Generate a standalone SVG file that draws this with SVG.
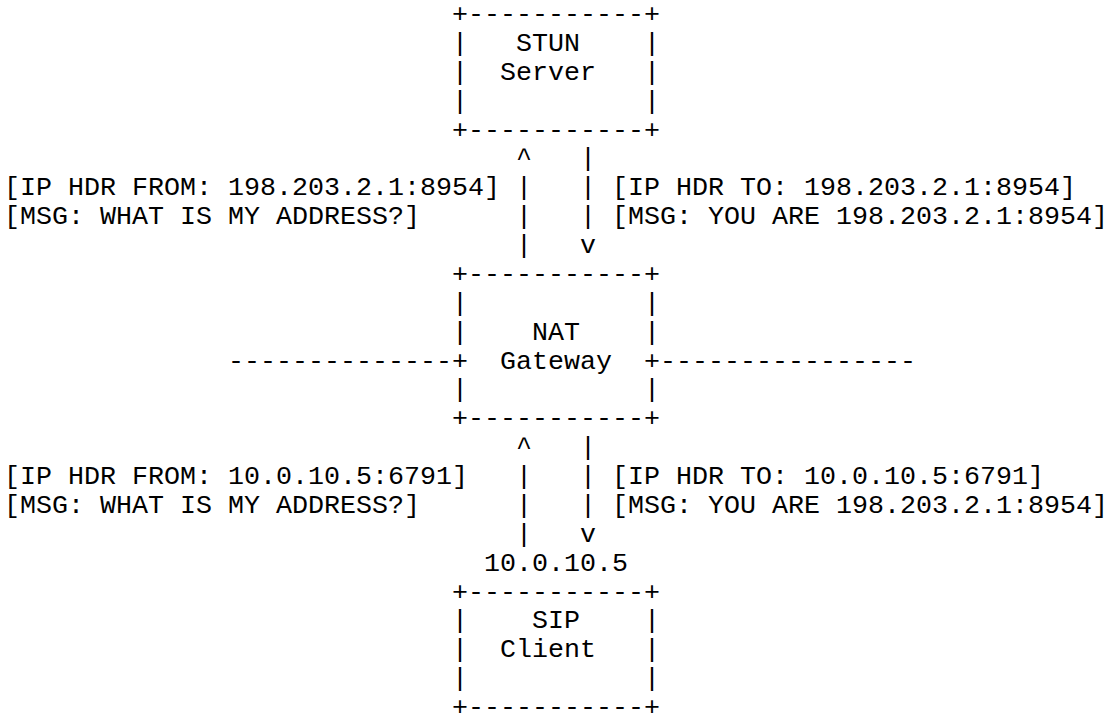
<svg xmlns="http://www.w3.org/2000/svg" width="1109" height="722" viewBox="0 0 1109 722" xml:space="preserve">
<style>
text{font-family:"Liberation Mono","Courier New",monospace;font-size:26.667px;fill:#000;white-space:pre}
</style>
<rect width="1109" height="722" fill="#fff"/>
<g id="stun-server">
<text x="452" y="22">+-----------+</text>
<text x="452" y="50.9">|   STUN    |</text>
<text x="452" y="79.75">|  Server   |</text>
<text x="452" y="108.6">|           |</text>
<text x="452" y="137.5">+-----------+</text>
</g>
<g id="nat-gateway">
<text x="452" y="281.9">+-----------+</text>
<text x="452" y="310.75">|           |</text>
<text x="452" y="339.6">|    NAT    |</text>
<text x="452" y="368.5">+  Gateway  +</text>
<text x="452" y="397.4">|           |</text>
<text x="452" y="426.25">+-----------+</text>
</g>
<g id="sip-client">
<text x="484" y="570.6">10.0.10.5</text>
<text x="452" y="599.5">+-----------+</text>
<text x="452" y="628.4">|    SIP    |</text>
<text x="452" y="657.25">|  Client   |</text>
<text x="452" y="686.1">|           |</text>
<text x="452" y="715">+-----------+</text>
</g>
<g id="connectors">
<text x="516" y="166.4">^</text><text x="580" y="166.4">|</text>
<text x="516" y="195.25">|</text><text x="580" y="195.25">|</text>
<text x="516" y="224.1">|</text><text x="580" y="224.1">|</text>
<text x="516" y="253">|</text><text x="580" y="253">v</text>
<text x="228" y="368.5">--------------</text>
<text x="660" y="368.5">----------------</text>
<text x="516" y="455.1">^</text><text x="580" y="455.1">|</text>
<text x="516" y="484">|</text><text x="580" y="484">|</text>
<text x="516" y="512.9">|</text><text x="580" y="512.9">|</text>
<text x="516" y="541.75">|</text><text x="580" y="541.75">v</text>
</g>
<g id="labels">
<text x="4" y="195.25">[IP HDR FROM: 198.203.2.1:8954]</text>
<text x="4" y="224.1">[MSG: WHAT IS MY ADDRESS?]</text>
<text x="612" y="195.25">[IP HDR TO: 198.203.2.1:8954]</text>
<text x="612" y="224.1">[MSG: YOU ARE 198.203.2.1:8954]</text>
<text x="4" y="484">[IP HDR FROM: 10.0.10.5:6791]</text>
<text x="4" y="512.9">[MSG: WHAT IS MY ADDRESS?]</text>
<text x="612" y="484">[IP HDR TO: 10.0.10.5:6791]</text>
<text x="612" y="512.9">[MSG: YOU ARE 198.203.2.1:8954]</text>
</g>
</svg>
